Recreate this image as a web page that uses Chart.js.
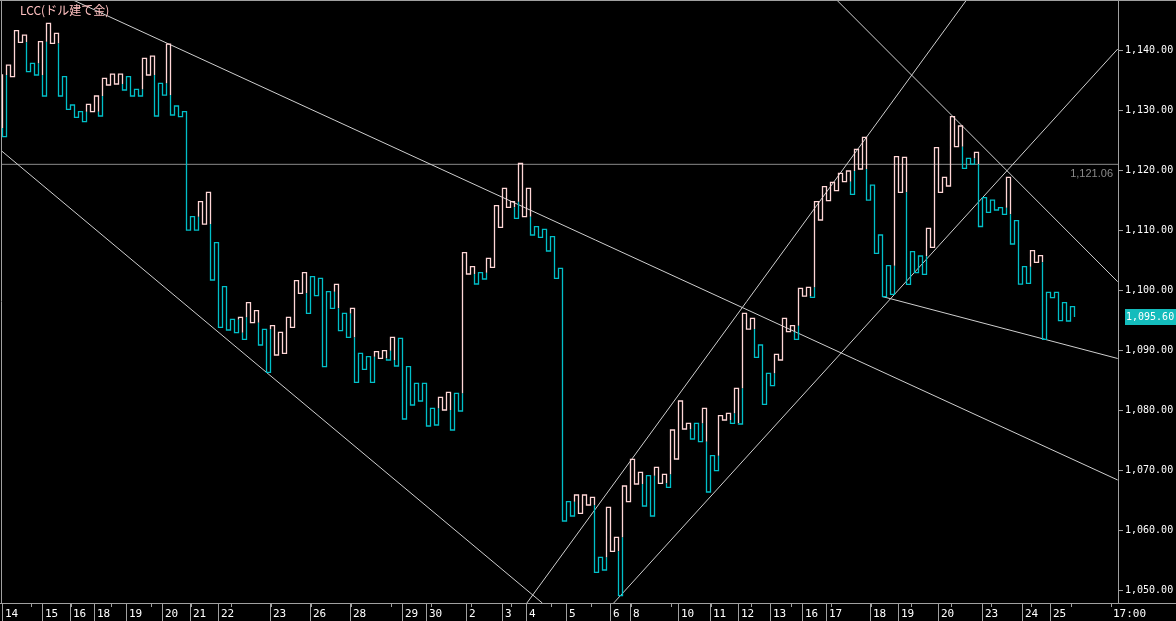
<!DOCTYPE html>
<html>
<head>
<meta charset="utf-8">
<script src="https://cdn.jsdelivr.net/npm/chart.js@4.4.1/dist/chart.umd.min.js"></script>
<style>
  html, body { margin: 0; padding: 0; background: #000; }
  #wrap { width: 1176px; height: 621px; position: relative; }
</style>
</head>
<body>
<div id="wrap"><canvas id="kagi"></canvas></div>
<script>
// Kagi turning levels. Each value ends one vertical stroke, strokes sit one column apart.
// The first value starts a stroke just off the left edge (column -1).
const turns14to22 = [1127.1, 1135.95,
  1125.67, 1137.61, 1135.67, 1143.34, 1141.39, 1142.61, 1136.5, 1137.89, 1135.95, 1141.5,
  1132.45, 1144.56, 1141.22, 1142.89, 1132.45, 1135.67, 1130.23, 1130.95, 1128.9, 1129.84,
  1128.17, 1131.06, 1129.84, 1132.45, 1129.12, 1135.39, 1134.28, 1136.11, 1134.45, 1136.11,
  1133.45, 1135.67, 1132.45, 1133.56, 1132.45, 1138.72, 1135.95, 1139.11, 1129.12, 1134.56,
  1132.61, 1141.11, 1129.28, 1130.78, 1129.0, 1129.84];
const turns22to30 = [
  1110.11, 1112.33, 1110.11, 1114.84, 1111.11, 1116.39, 1101.78, 1108.0, 1093.89, 1100.67,
  1093.45, 1095.22, 1093.0, 1095.56, 1091.89, 1098.0, 1094.67, 1096.67, 1090.95, 1093.56,
  1086.39, 1094.17, 1089.28, 1093.06, 1089.56, 1095.56, 1093.89, 1101.67, 1099.56, 1103.0,
  1096.22, 1102.33, 1099.17, 1102.06, 1087.33, 1099.83, 1097.06, 1101.06, 1093.33, 1096.22,
  1092.22, 1097.06, 1084.72];
const turns30to5 = [
  1089.56, 1086.89, 1089.0, 1084.73, 1089.84, 1088.73, 1090.0, 1088.45, 1092.23, 1087.45,
  1092.06, 1078.62, 1087.34, 1080.95, 1084.56, 1081.62, 1084.56, 1077.45, 1080.39, 1077.62,
  1082.23, 1080.12, 1083.06, 1076.78, 1082.89, 1079.95, 1106.34, 1102.78, 1104.0, 1101.12,
  1103.0, 1101.95, 1105.39, 1103.89, 1114.17, 1110.56, 1117.06, 1113.89, 1114.84, 1112.06,
  1121.2, 1112.34, 1117.06, 1109.28, 1110.67, 1108.89, 1110.23, 1106.62, 1109.0, 1102.06,
  1103.73];
const turns5to10 = [
  1061.62, 1064.84, 1062.45, 1065.95, 1062.89, 1065.95, 1064.28, 1065.56, 1053.06, 1055.56,
  1053.45, 1063.89, 1056.56, 1058.89, 1049.17, 1067.45, 1064.84, 1071.89, 1067.78, 1069.73,
  1064.12, 1069.17, 1062.45, 1070.56, 1067.89, 1069.39, 1067.23, 1076.78, 1071.95, 1081.62,
  1076.95, 1077.89, 1075.28, 1077.89, 1074.84];
const turns10to17 = [
  1080.39, 1066.45, 1072.5, 1070.0, 1079.17, 1078.45, 1079.56, 1077.89, 1083.73, 1077.78,
  1096.23, 1093.61, 1095.39, 1088.89, 1090.95, 1081.06, 1086.23, 1084.17, 1089.39, 1088.45,
  1095.39, 1093.17, 1094.17, 1091.89, 1100.39, 1099.11, 1100.56, 1098.89, 1114.84, 1111.78,
  1117.33, 1115.0, 1118.06, 1116.67, 1119.56, 1118.17, 1119.95];
const turns17to25 = [
  1116.06, 1123.56, 1120.28, 1125.56, 1115.11, 1117.61, 1106.23, 1109.28, 1099.0, 1104.17,
  1099.39, 1122.34, 1116.39, 1122.23, 1101.06, 1106.5, 1103.0, 1105.78, 1102.72, 1110.39,
  1107.23, 1123.84, 1116.39, 1118.89, 1117.45, 1129.0, 1124.0, 1127.45, 1120.39, 1122.06,
  1121.11, 1123.06, 1110.7, 1115.5, 1113.06, 1115.11, 1113.45, 1113.84, 1112.73, 1118.89,
  1107.78, 1111.67, 1101.11, 1104.0, 1101.23, 1106.67, 1104.73, 1105.84, 1091.89, 1099.72,
  1098.84, 1099.72, 1095.0, 1098.0, 1094.95, 1097.34, 1095.6];

const yTicks = [1050, 1060, 1070, 1080, 1090, 1100, 1110, 1120, 1130, 1140];
const dateLabels = ['14','15','16','18','19','20','21','22','23','26','28','29','30','2','3','4','5',
  '6','8','10','11','12','13','16','17','18','19','20','23','24','25'];
const dateCols = [0, 10, 17, 23, 31, 40, 47, 54, 67, 77, 87, 100, 106, 116, 125, 131, 141,
  152, 157, 169, 177, 184, 192, 200, 206, 217, 224, 234, 245, 255, 262];
const timeLabel = '17:00';
const timeCol = 277.25;
const minorCols = [7.25, 17.25, 27.25, 37.25, 47.25, 57.25, 67.25, 77.25, 87.25, 97.25, 107.25,
  117.25, 127.25, 137.25, 147.25, 157.25, 167.25, 177.25, 187.25, 197.25, 207.25, 217.25,
  227.25, 237.25, 247.25, 257.25, 267.25, 277.25];

const markLevel = 1121.06;
// hand drawn trend lines: [column, price] end points
const trendLines = [
  [[17.63, 1148.45], [278.8, 1068.45]],
  [[220.1, 1099.0], [278.8, 1088.7]],
  [[-0.2, 1123.28], [134.95, 1047.95]],
  [[131.1, 1047.95], [241.0, 1148.45]],
  [[152.8, 1047.95], [278.8, 1140.28]],
  [[208.55, 1148.45], [278.8, 1101.5]]
];

const X_MIN = -0.125, X_MAX = 278.875;
const Y_MIN = 1047.95, Y_MAX = 1148.45;
const PINK = '#ffd6d6';
const TITLE_PINK = '#ffc0c0';
const CYAN = '#00bfc8';
const GRAY = '#a0a0a0';

const levels = [].concat(turns14to22, turns22to30, turns30to5, turns5to10, turns10to17, turns17to25);

// walk the strokes, switching colour where the price passes the previous shoulder / waist
function buildKagi(lv, firstCol) {
    const pts = [{ x: firstCol, y: lv[0] }];
    const colors = [];
    let yang = true;
    for (let k = 0; k + 1 < lv.length; k++) {
        const x = firstCol + k, from = lv[k], to = lv[k + 1];
        if (k > 0) {
            const prev = lv[k - 1];
            if (to > from && !yang && to > prev) {
                pts.push({ x: x, y: prev }); colors.push(CYAN); yang = true;
            } else if (to < from && yang && to < prev) {
                pts.push({ x: x, y: prev }); colors.push(PINK); yang = false;
            }
        }
        pts.push({ x: x, y: to }); colors.push(yang ? PINK : CYAN);
        if (k + 2 < lv.length) {
            pts.push({ x: x + 1, y: to }); colors.push(yang ? PINK : CYAN);
        }
    }
    return { pts, colors };
}

const kagi = buildKagi(levels, -1);

function fmt(v) {
    return v.toLocaleString('en-US', { minimumFractionDigits: 2, maximumFractionDigits: 2 });
}

const decor = {
    id: 'decor',
    afterDraw(chart) {
        const { ctx, chartArea: a, scales: { x, y } } = chart;
        ctx.save();
        ctx.strokeStyle = GRAY;
        ctx.lineWidth = 1;
        ctx.beginPath();
        ctx.moveTo(0, 0.5); ctx.lineTo(chart.width, 0.5);
        ctx.moveTo(1.5, 0); ctx.lineTo(1.5, a.bottom);
        ctx.moveTo(0, a.bottom + 0.5); ctx.lineTo(chart.width, a.bottom + 0.5);
        dateCols.forEach(c => {
            const px = Math.floor(x.getPixelForValue(c)) + 0.5;
            ctx.moveTo(px, a.bottom); ctx.lineTo(px, chart.height);
        });
        minorCols.forEach(c => {
            const px = Math.floor(x.getPixelForValue(c)) + 0.5;
            ctx.moveTo(px, a.bottom); ctx.lineTo(px, a.bottom + 4);
        });
        ctx.stroke();

        ctx.fillStyle = '#ffffff';
        ctx.font = '11px "DejaVu Sans Mono"';
        ctx.textBaseline = 'middle';
        ctx.textAlign = 'left';
        dateLabels.forEach((t, i) => {
            ctx.fillText(t, Math.floor(x.getPixelForValue(dateCols[i])) + 3, a.bottom + 11);
        });
        ctx.fillText(timeLabel, Math.floor(x.getPixelForValue(timeCol)) + 2, a.bottom + 11);

        // title
        ctx.fillStyle = TITLE_PINK;
        ctx.font = '12px "Noto Sans CJK JP"';
        ctx.fillText('LCC(ドル建て金)', 20, 10);

        // level mark text
        const my = y.getPixelForValue(markLevel);
        ctx.fillStyle = '#8a8a8a';
        ctx.font = '11px "Liberation Sans"';
        ctx.textAlign = 'right';
        ctx.textBaseline = 'top';
        ctx.fillText(fmt(markLevel), a.right - 5, my + 4);

        // last price tag
        const last = levels[levels.length - 1];
        const ly = y.getPixelForValue(last);
        ctx.fillStyle = '#14bcbc';
        ctx.fillRect(a.right + 7, Math.round(ly) - 8, chart.width - a.right - 7, 16);
        ctx.fillStyle = '#ffffff';
        ctx.font = '10px "DejaVu Sans Mono"';
        ctx.textAlign = 'left';
        ctx.textBaseline = 'middle';
        ctx.fillText(fmt(last), a.right + 8, ly);
        ctx.restore();
    }
};

const datasets = [{
    data: kagi.pts,
    borderWidth: 1.3,
    pointRadius: 0,
    borderColor: PINK,
    segment: { borderColor: c => kagi.colors[c.p0DataIndex] },
    order: 0
}, {
    data: [{ x: X_MIN, y: markLevel }, { x: X_MAX, y: markLevel }],
    borderColor: '#8a8a8a',
    borderWidth: 1,
    pointRadius: 0,
    order: 3
}];
trendLines.forEach(l => {
    datasets.push({
        data: l.map(p => ({ x: p[0], y: p[1] })),
        borderColor: '#cfcfcf',
        borderWidth: 1,
        pointRadius: 0,
        order: 2
    });
});

new Chart(document.getElementById('kagi'), {
    type: 'line',
    data: { datasets },
    options: {
        responsive: true,
        maintainAspectRatio: false,
        devicePixelRatio: 1,
        animation: false,
        events: [],
        layout: { padding: { left: 2, top: 0, right: 0, bottom: 18 } },
        plugins: { legend: { display: false }, tooltip: { enabled: false } },
        scales: {
            x: { type: 'linear', display: false, min: X_MIN, max: X_MAX },
            y: {
                position: 'right',
                min: Y_MIN,
                max: Y_MAX,
                afterBuildTicks: s => { s.ticks = yTicks.map(v => ({ value: v })); },
                afterFit: s => { s.width = 58; s.paddingTop = 0; s.paddingBottom = 0; },
                grid: { drawOnChartArea: false, drawTicks: true, tickLength: 5, color: GRAY },
                border: { color: GRAY },
                ticks: {
                    color: '#ffffff',
                    padding: 2,
                    font: { family: 'DejaVu Sans Mono', size: 10 },
                    callback: v => fmt(v)
                }
            }
        }
    },
    plugins: [decor]
});
</script>
</body>
</html>
